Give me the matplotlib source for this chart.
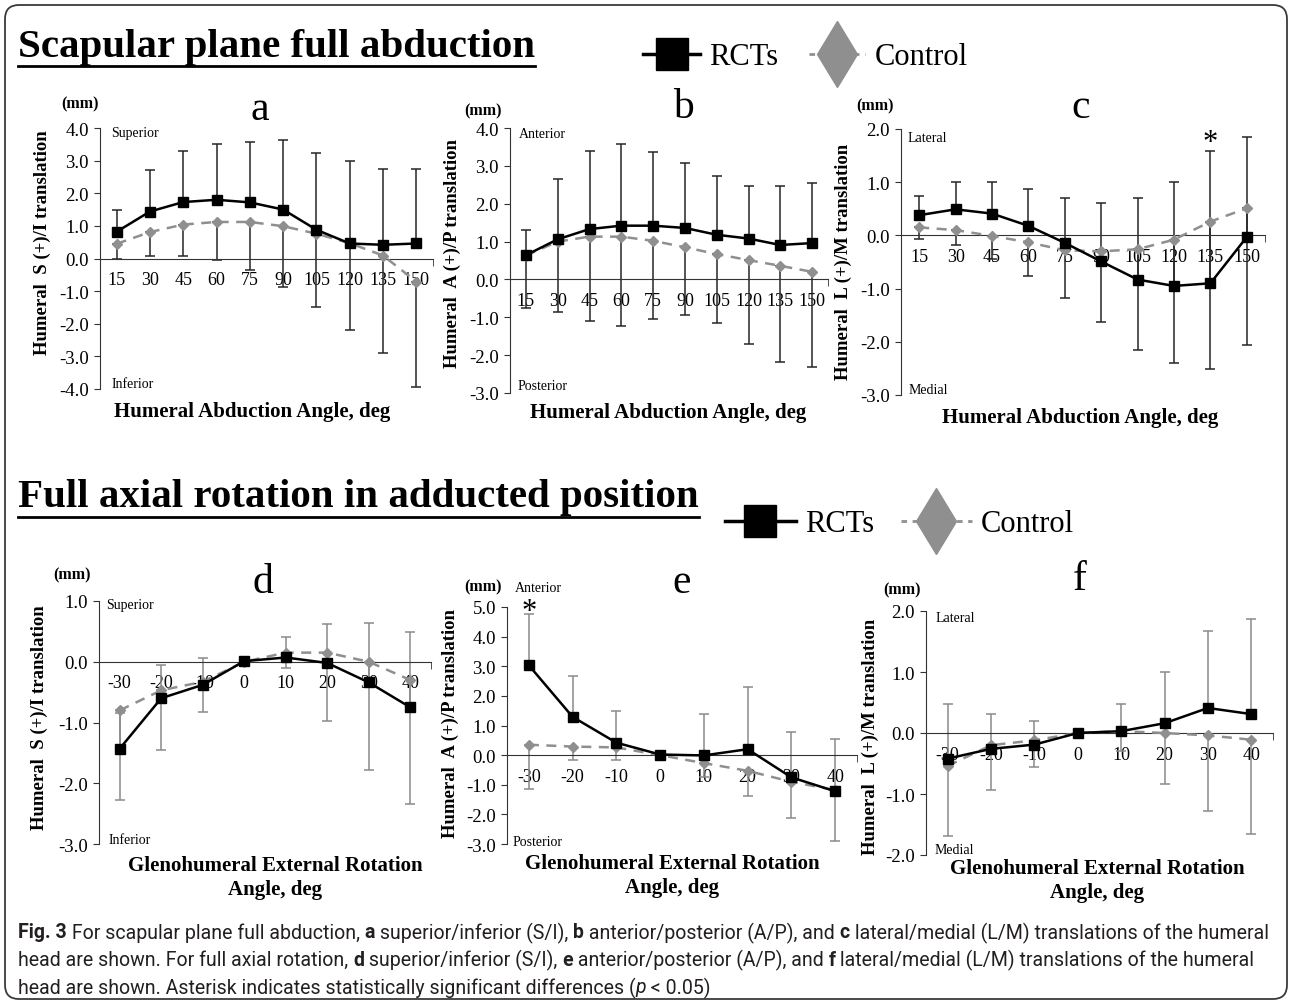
import numpy as np
import matplotlib
matplotlib.use("Agg")
import matplotlib.pyplot as plt
from matplotlib.lines import Line2D
from matplotlib.patches import FancyBboxPatch

plt.rcParams['font.family'] = ['Liberation Serif', 'DejaVu Serif']

# ---- data ----
abd_angles = [15, 30, 45, 60, 75, 90, 105, 120, 135, 150]
rot_angles = [-30, -20, -10, 0, 10, 20, 30, 40]

# a: S/I translation, abduction
rct_a = [0.82, 1.44, 1.73, 1.80, 1.72, 1.50, 0.88, 0.46, 0.42, 0.46]
rct_a_sd = [0.68, 1.28, 1.58, 1.70, 1.84, 2.14, 2.35, 2.52, 2.31, 2.27]
ctl_a = [0.45, 0.81, 1.04, 1.12, 1.12, 0.99, 0.76, 0.47, 0.09, -0.71]
ctl_a_sd = [0.45, 0.72, 0.95, 1.17, 1.48, 1.86, 2.26, 2.66, 2.99, 3.23]

# b: A/P translation, abduction
rct_b = [0.64, 1.06, 1.33, 1.42, 1.42, 1.36, 1.18, 1.08, 0.91, 0.96]
rct_b_sd = [0.66, 1.59, 2.07, 2.15, 1.95, 1.72, 1.56, 1.39, 1.56, 1.60]
ctl_b = [0.63, 1.00, 1.13, 1.13, 1.02, 0.85, 0.67, 0.51, 0.36, 0.20]
ctl_b_sd = [1.39, 1.85, 2.22, 2.35, 2.07, 1.78, 1.81, 2.22, 2.53, 2.51]

# c: L/M translation, abduction
rct_c = [0.38, 0.49, 0.41, 0.18, -0.14, -0.49, -0.83, -0.95, -0.90, -0.03]
rct_c_sd = [0.37, 0.51, 0.59, 0.70, 0.85, 1.10, 1.53, 1.95, 2.49, 1.88]
ctl_c = [0.15, 0.10, -0.01, -0.13, -0.28, -0.30, -0.26, -0.08, 0.26, 0.51]
ctl_c_sd = [0.22, 0.28, 0.44, 0.63, 0.90, 1.32, 1.90, 2.32, 2.77, 2.57]

# d: S/I translation, rotation
rct_d = [-1.43, -0.60, -0.38, 0.01, 0.07, -0.02, -0.34, -0.75]
rct_d_sd = [0.58, 0.54, 0.44, 0.0, 0.34, 0.64, 0.98, 1.24]
ctl_d = [-0.80, -0.47, -0.33, 0.0, 0.15, 0.15, 0.0, -0.30]
ctl_d_sd = [1.48, 0.99, 0.49, 0.0, 0.25, 1.13, 1.79, 2.04]

# e: A/P translation, rotation
rct_e = [3.03, 1.29, 0.42, 0.02, -0.01, 0.20, -0.75, -1.22]
rct_e_sd = [1.72, 1.38, 1.07, 0.0, 1.41, 2.10, 1.54, 1.75]
ctl_e = [0.35, 0.29, 0.26, 0.0, -0.27, -0.53, -0.90, -1.18]
ctl_e_sd = [1.50, 0.44, 0.43, 0.0, 0.48, 0.86, 1.22, 1.71]

# f: L/M translation, rotation
rct_f = [-0.42, -0.26, -0.19, 0.0, 0.03, 0.16, 0.41, 0.31]
rct_f_sd = [0.90, 0.57, 0.39, 0.0, 0.45, 0.84, 1.27, 1.56]
ctl_f = [-0.54, -0.20, -0.12, 0.0, 0.03, 0.0, -0.04, -0.11]
ctl_f_sd = [1.15, 0.74, 0.44, 0.0, 0.33, 0.84, 1.24, 1.55]

W, H = 1292, 1004
fig = plt.figure(figsize=(W / 100, H / 100), dpi=100)


def fx(x):
    return x / W


def fy(y):
    return 1 - y / H


def ptext(x, y, s, **kw):
    return fig.text(fx(x), fy(y), s, **kw)


def panel(box, cats, rct, rct_sd, ctl, ctl_sd, ylim, ecol, star=None):
    x0, y0, x1, y1 = box
    ax = fig.add_axes([fx(x0), fy(y1), (x1 - x0) / W, (y1 - y0) / H])
    x = np.arange(len(cats))
    z = np.zeros(len(cats))
    ax.errorbar(x, rct, yerr=[z, rct_sd], fmt='none', ecolor=ecol,
                elinewidth=1.1, capsize=3.5, capthick=1.1, zorder=2)
    ax.errorbar(x, ctl, yerr=[ctl_sd, z], fmt='none', ecolor=ecol,
                elinewidth=1.1, capsize=3.5, capthick=1.1, zorder=2)
    ax.plot(x, ctl, color='#8f8f8f', ls=(0, (4, 3)), lw=1.8,
            marker='D', ms=5, zorder=3)
    ax.plot(x, rct, color='black', lw=1.8, marker='s', ms=7.5, zorder=4)
    ax.set_xlim(-0.5, len(cats) - 0.5)
    ax.set_ylim(ylim)
    ax.patch.set_alpha(0)
    for s in ['top', 'right']:
        ax.spines[s].set_visible(False)
    ax.spines['bottom'].set_position(('data', 0))
    ax.spines['left'].set_color('#333333')
    ax.spines['bottom'].set_color('#333333')
    ax.set_xticks(x, [str(c) for c in cats])
    ax.set_xticks([len(cats) - 0.5], minor=True)
    ax.tick_params(axis='x', which='major', length=0, pad=9, labelsize=13)
    ax.tick_params(axis='x', which='minor', length=5, direction='out', color='#333333')
    yt = np.arange(ylim[0], ylim[1] + 0.01, 1.0)
    ax.set_yticks(yt, ['%.1f' % v for v in yt])
    ax.tick_params(axis='y', length=4, direction='out', labelsize=13.5, pad=4, color='#333333')
    if star is not None:
        ax.text(star[0], star[1], '*', ha='center', va='center', fontsize=22, clip_on=False)
    return ax


# ---- panels ----
tc_dark = '#262626'
tc_gray = '#8a8a8a'
panel((100, 129, 433, 390), abd_angles, rct_a, rct_a_sd, ctl_a, ctl_a_sd, (-4, 4), tc_dark)
panel((510, 129, 828, 394), abd_angles, rct_b, rct_b_sd, ctl_b, ctl_b_sd, (-3, 4), tc_dark)
panel((901, 130, 1265, 396), abd_angles, rct_c, rct_c_sd, ctl_c, ctl_c_sd, (-3, 2), tc_dark,
      star=(8, 1.74))
panel((99, 602, 431, 845), rot_angles, rct_d, rct_d_sd, ctl_d, ctl_d_sd, (-3, 1), tc_gray)
panel((507, 608, 857, 845), rot_angles, rct_e, rct_e_sd, ctl_e, ctl_e_sd, (-3, 5), tc_gray,
      star=(0, 4.85))
panel((926, 612, 1273, 856), rot_angles, rct_f, rct_f_sd, ctl_f, ctl_f_sd, (-2, 2), tc_gray)

# panel letters and units
for lab, x, y in [('a', 260, 110), ('b', 683, 108), ('c', 1081, 108),
                  ('d', 263, 583), ('e', 682, 583), ('f', 1080, 580)]:
    ptext(x, y, lab, fontsize=30, ha='center', va='center')
for x, y in [(80, 104), (483, 111), (875, 106), (72, 575), (483, 587), (902, 590)]:
    ptext(x, y, '(mm)', fontsize=11.5, fontweight='bold', ha='center', va='center')

# direction labels
for s, x, y in [('Superior', 111, 134), ('Inferior', 112, 385),
                ('Anterior', 519, 134), ('Posterior', 518, 387),
                ('Lateral', 908, 138), ('Medial', 909, 391),
                ('Superior', 106, 606), ('Inferior', 109, 840),
                ('Anterior', 515, 589), ('Posterior', 513, 842),
                ('Lateral', 936, 618), ('Medial', 935, 851)]:
    ptext(x, y, s, fontsize=10, ha='left', va='center')

# axis titles
ylab_si = 'Humeral  S (+)/I translation'
ylab_ap = 'Humeral  A (+)/P translation'
ylab_lm = 'Humeral  L (+)/M translation'
for s, x, y in [(ylab_si, 42, 243), (ylab_ap, 452, 253), (ylab_lm, 843, 262),
                (ylab_si, 39, 718), (ylab_ap, 450, 723), (ylab_lm, 870, 737)]:
    ptext(x, y, s, fontsize=13.5, fontweight='bold', rotation=90, ha='center', va='center')

xlab_abd = 'Humeral Abduction Angle, deg'
for x, y in [(252, 412), (668, 413), (1080, 418)]:
    ptext(x, y, xlab_abd, fontsize=15, fontweight='bold', ha='center', va='center')
xlab_rot = 'Glenohumeral External Rotation\nAngle, deg'
for x, y in [(275, 878), (672, 876), (1097, 881)]:
    ptext(x, y, xlab_rot, fontsize=15, fontweight='bold', ha='center', va='center',
          linespacing=1.25)

# ---- headers with underline ----
renderer = fig.canvas.get_renderer()
for s, y in [('Scapular plane full abduction', 47), ('Full axial rotation in adducted position', 498)]:
    t = ptext(18, y, s, fontsize=29.5, fontweight='bold', ha='left', va='center')
    bb = t.get_window_extent(renderer)
    yl = (bb.y0 - 1) / H
    fig.add_artist(Line2D([bb.x0 / W, bb.x1 / W], [yl, yl], transform=fig.transFigure,
                          color='black', lw=2))

# ---- legends ----
h_rct = Line2D([], [], color='black', lw=2.5, marker='s', ms=23)
h_ctl = Line2D([], [], color='#8f8f8f', lw=2.0, ls=(0, (2, 2)), marker='d', ms=34,
               markerfacecolor='#8f8f8f', markeredgecolor='#8f8f8f')
for x, y, hl, cs in [(628, 58, 1.85, 1.0), (710, 525, 2.3, 0.9)]:
    fig.legend([h_rct, h_ctl], ['RCTs', 'Control'], loc='center left',
               bbox_to_anchor=(fx(x), fy(y)), ncol=2, frameon=False, fontsize=22,
               handlelength=hl, handletextpad=0.3, columnspacing=cs, borderpad=0)

# ---- caption (sized to span the frame width) ----
capfont = ['Roboto', 'DejaVu Sans']
caption = [
    [('Fig. 3', 'bold', 'normal'), (' For scapular plane full abduction, ', 'normal', 'normal'),
     ('a', 'bold', 'normal'), (' superior/inferior (S/I), ', 'normal', 'normal'),
     ('b', 'bold', 'normal'), (' anterior/posterior (A/P), and ', 'normal', 'normal'),
     ('c', 'bold', 'normal'), (' lateral/medial (L/M) translations of the humeral', 'normal', 'normal')],
    [('head are shown. For full axial rotation, ', 'normal', 'normal'),
     ('d', 'bold', 'normal'), (' superior/inferior (S/I), ', 'normal', 'normal'),
     ('e', 'bold', 'normal'), (' anterior/posterior (A/P), and ', 'normal', 'normal'),
     ('f', 'bold', 'normal'), (' lateral/medial (L/M) translations of the humeral', 'normal', 'normal')],
    [('head are shown. Asterisk indicates statistically significant differences (', 'normal', 'normal'),
     ('p', 'normal', 'italic'), (' < 0.05)', 'normal', 'normal')],
]


def draw_caption(size):
    arts = []
    widths = []
    for i, parts in enumerate(caption):
        x = 18
        y = 933 + i * 27.5
        for txt, w, st in parts:
            t = ptext(x, y, txt, fontsize=size, fontweight=w, fontstyle=st, family=capfont,
                      ha='left', va='center', color='#231f20')
            arts.append(t)
            x += t.get_window_extent(renderer).width
        widths.append(x - 18)
    return arts, max(widths)


arts, wmax = draw_caption(14.0)
for a in arts:
    a.remove()
draw_caption(14.0 * 1256 / wmax)

# ---- rounded frame ----
ax0 = fig.add_axes([0, 0, 1, 1], zorder=-1)
ax0.set_xlim(0, W)
ax0.set_ylim(H, 0)
ax0.axis('off')
ax0.add_patch(FancyBboxPatch((5, 6), W - 10, H - 10, boxstyle='round,pad=0,rounding_size=14',
                             fill=False, ec='#3a3a3a', lw=1.3))

fig.savefig('out.png', dpi=100)
